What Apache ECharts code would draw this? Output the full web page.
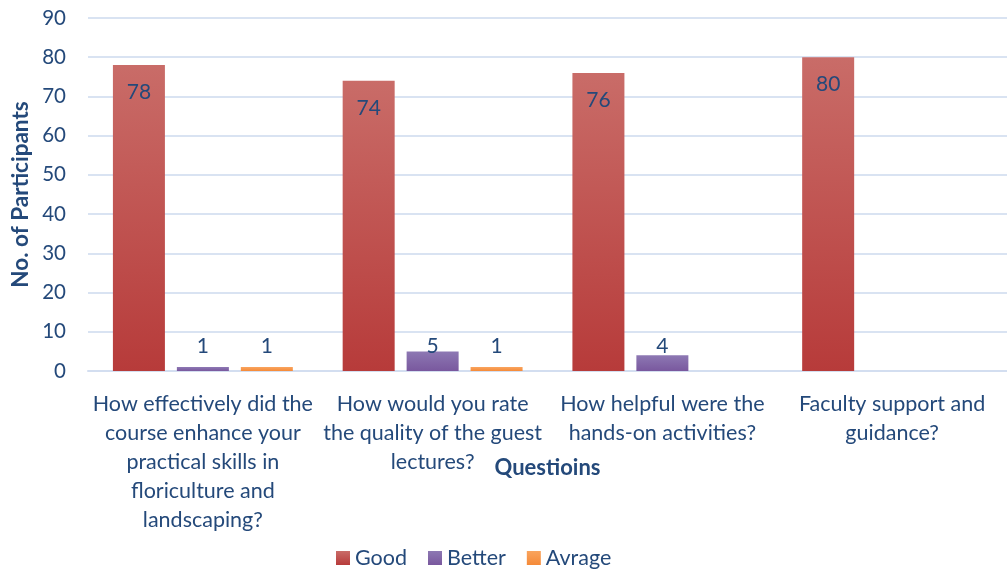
<!DOCTYPE html>
<html><head><meta charset="utf-8">
<script src="https://cdn.jsdelivr.net/npm/echarts@6/dist/echarts.min.js"></script>
<style>html,body{margin:0;padding:0;background:#fff}#c{width:1007px;height:575px}</style>
</head><body><div id="c"></div>
<script>
var categories = [
  "How effectively did the\ncourse enhance your\npractical skills in\nfloriculture and\nlandscaping?",
  "How would you rate\nthe quality of the guest\nlectures?",
  "How helpful were the\nhands-on activities?",
  "Faculty support and\nguidance?"
];
var seriesNames = ["Good", "Better", "Avrage"];
var good = [78, 74, 76, 80];
var better = [1, 5, 4, null];
var avrage = [1, 1, null, null];
var yTicks = {min: 0, max: 90, interval: 10};

var txt = '#24497a';
var font = 'Lato';
function grad(a, b) {
  return new echarts.graphic.LinearGradient(0, 0, 0, 1, [{offset: 0, color: a}, {offset: 1, color: b}]);
}
var chart = echarts.init(document.getElementById('c'));
chart.setOption({
  animation: false,
  textStyle: {fontFamily: font},
  grid: {left: 88, right: 0, top: 18, bottom: 204},
  legend: {
    bottom: 1, left: 331, itemWidth: 14, itemHeight: 14, itemGap: 21,
    icon: 'rect',
    textStyle: {color: txt, fontSize: 21.5, fontFamily: font},
    data: seriesNames
  },
  xAxis: {
    type: 'category', data: categories,
    axisLine: {lineStyle: {color: '#d3def0', width: 2}},
    axisTick: {show: false},
    axisLabel: {color: txt, fontSize: 21.5, lineHeight: 29, margin: 19, interval: 0, fontFamily: font},
    name: 'Questioins', nameLocation: 'middle', nameGap: 86, nameMoveOverlap: false,
    nameTextStyle: {color: txt, fontSize: 22, fontWeight: 'bold', fontFamily: font}
  },
  yAxis: {
    type: 'value', min: yTicks.min, max: yTicks.max, interval: yTicks.interval,
    axisLine: {show: false}, axisTick: {show: false},
    splitLine: {lineStyle: {color: '#d9e3f2', width: 2}},
    axisLabel: {color: txt, fontSize: 20.5, margin: 22, fontFamily: font},
    name: 'No. of Participants', nameLocation: 'middle', nameGap: 56, nameRotate: 90, nameMoveOverlap: false,
    nameTextStyle: {color: txt, fontSize: 22.5, fontWeight: 'bold', fontFamily: font}
  },
  series: [
    {name: seriesNames[0], type: 'bar', data: good, barWidth: 52, barGap: '23%',
     itemStyle: {color: grad('#c96c68', '#b73b3a')},
     label: {show: true, position: 'insideTop', distance: 17, color: txt, fontSize: 21, fontFamily: font}},
    {name: seriesNames[1], type: 'bar', data: better, barWidth: 52, barGap: '23%',
     itemStyle: {color: grad('#8d78b3', '#79589e')},
     label: {show: true, position: 'insideBottom', distance: 14, color: txt, fontSize: 21, fontFamily: font}},
    {name: seriesNames[2], type: 'bar', data: avrage, barWidth: 52, barGap: '23%',
     itemStyle: {color: grad('#f9a45e', '#f58a38')},
     label: {show: true, position: 'insideBottom', distance: 14, color: txt, fontSize: 21, fontFamily: font}}
  ]
});
</script></body></html>
